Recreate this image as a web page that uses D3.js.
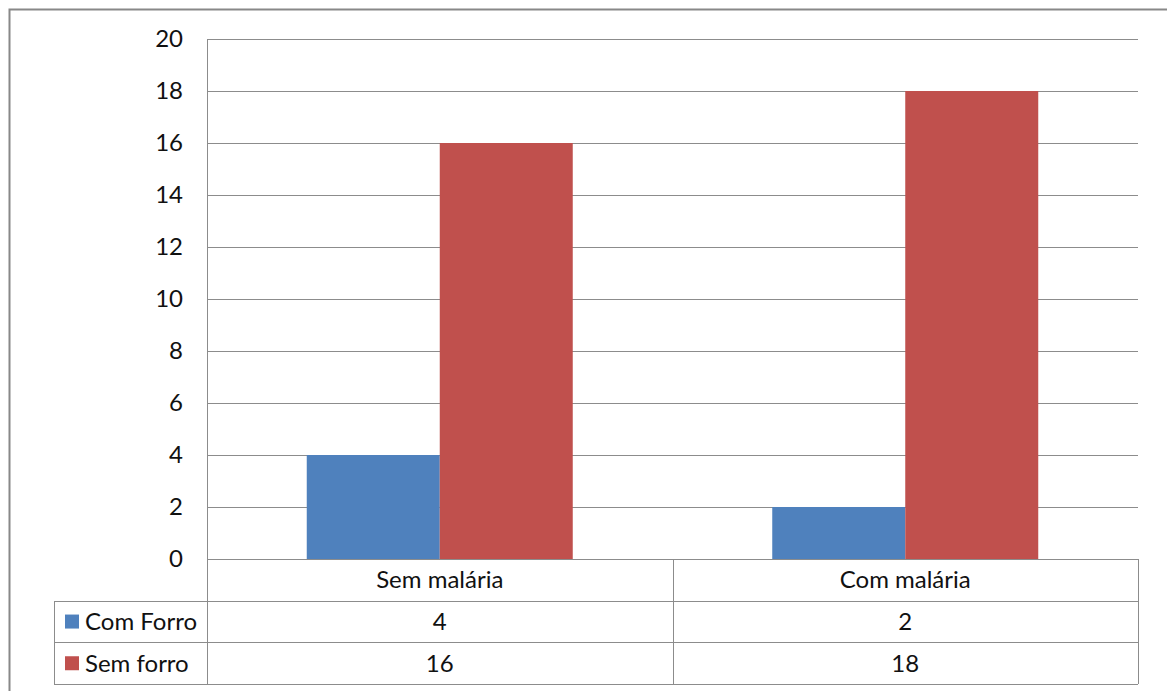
<!DOCTYPE html>
<html>
<head>
<meta charset="utf-8">
<script src="https://cdn.jsdelivr.net/npm/d3@7"></script>
<style>
  html, body { margin: 0; padding: 0; background: #fff; }
  svg { display: block; font-family: Lato, "Open Sans", sans-serif; }
</style>
</head>
<body>
<svg id="chart" width="1167" height="691"></svg>
<script>
// Data
const categories = ["Sem malária", "Com malária"];
const seriesNames = ["Com Forro", "Sem forro"];
const comForro = [4, 2];
const semForro = [16, 18];
const yTicks = [0, 2, 4, 6, 8, 10, 12, 14, 16, 18, 20];
const colors = ["#4F81BD", "#C0504D"];

const seriesValues = [comForro, semForro];

const svg = d3.select("#chart");
const lineColor = "#8c8c8c";
const fontSize = 24;
const textColor = "#111";

// Outer frame
svg.append("rect")
  .attr("x", 9.5).attr("y", 9.5)
  .attr("width", 1170).attr("height", 700)
  .attr("fill", "none").attr("stroke", "#888").attr("stroke-width", 2);

const plot = { left: 207, right: 1138, top: 39, bottom: 559 };
const rowH = 41.7;
const legendLeft = 54;

const x0 = d3.scaleBand().domain(categories).range([plot.left, plot.right]).paddingInner(0).paddingOuter(0);
const x1 = d3.scaleBand().domain(seriesNames).range([0, x0.bandwidth()]).paddingInner(0).paddingOuter(0.75);
const y = d3.scaleLinear().domain([0, 20]).range([plot.bottom, plot.top]);

// Gridlines and tick labels
const yAxis = d3.axisLeft(y).tickValues(yTicks).tickSize(-(plot.right - plot.left)).tickPadding(24);
const gy = svg.append("g").attr("transform", `translate(${plot.left},0)`).call(yAxis);
gy.select(".domain").remove();
gy.selectAll(".tick line").attr("stroke", lineColor).attr("stroke-width", 1).attr("shape-rendering", "crispEdges");
gy.selectAll(".tick text").attr("font-size", fontSize).attr("fill", textColor).attr("font-family", "Lato, sans-serif");

// Bars
const groups = svg.append("g").selectAll("g")
  .data(categories)
  .join("g")
  .attr("transform", d => `translate(${x0(d)},0)`);

groups.selectAll("rect")
  .data((c, i) => seriesNames.map((s, j) => ({ s, v: seriesValues[j][i], j })))
  .join("rect")
  .attr("x", d => x1(d.s))
  .attr("width", x1.bandwidth())
  .attr("y", d => y(d.v))
  .attr("height", d => y(0) - y(d.v))
  .attr("fill", d => colors[d.j]);

// Data table below the plot
const table = svg.append("g").attr("stroke", lineColor).attr("stroke-width", 1).attr("shape-rendering", "crispEdges");
const rowsY = [plot.bottom, plot.bottom + rowH, plot.bottom + 2 * rowH, plot.bottom + 3 * rowH];

// y axis line continuing through the table
table.append("line").attr("x1", plot.left + 0.5).attr("x2", plot.left + 0.5).attr("y1", plot.top).attr("y2", rowsY[3]);
// horizontal lines
table.append("line").attr("x1", plot.left).attr("x2", plot.right).attr("y1", rowsY[0] + 0.5).attr("y2", rowsY[0] + 0.5);
rowsY.slice(1).forEach(ry => {
  table.append("line").attr("x1", legendLeft).attr("x2", plot.right).attr("y1", ry + 0.5).attr("y2", ry + 0.5);
});
// vertical lines between categories and at the right edge
categories.forEach((c, i) => {
  const xx = x0(c) + x0.bandwidth();
  table.append("line").attr("x1", xx + 0.5).attr("x2", xx + 0.5).attr("y1", rowsY[0]).attr("y2", rowsY[3]);
});
table.append("line").attr("x1", legendLeft + 0.5).attr("x2", legendLeft + 0.5).attr("y1", rowsY[1]).attr("y2", rowsY[3]);

// category headers
svg.append("g").selectAll("text")
  .data(categories)
  .join("text")
  .attr("x", d => x0(d) + x0.bandwidth() / 2)
  .attr("y", rowsY[0] + rowH / 2)
  .attr("dy", "0.35em")
  .attr("text-anchor", "middle")
  .attr("font-size", fontSize)
  .attr("fill", textColor)
  .text(d => d);

// series rows
seriesNames.forEach((s, j) => {
  const cy = rowsY[j + 1] + rowH / 2;
  svg.append("rect")
    .attr("x", 65).attr("y", cy - 7).attr("width", 14).attr("height", 14)
    .attr("fill", colors[j]);
  svg.append("text")
    .attr("x", 85).attr("y", cy).attr("dy", "0.35em")
    .attr("font-size", fontSize).attr("fill", textColor)
    .text(s);
  categories.forEach((c, i) => {
    svg.append("text")
      .attr("x", x0(c) + x0.bandwidth() / 2)
      .attr("y", cy).attr("dy", "0.35em")
      .attr("text-anchor", "middle")
      .attr("font-size", fontSize).attr("fill", textColor)
      .text(seriesValues[j][i]);
  });
});
</script>
</body>
</html>
